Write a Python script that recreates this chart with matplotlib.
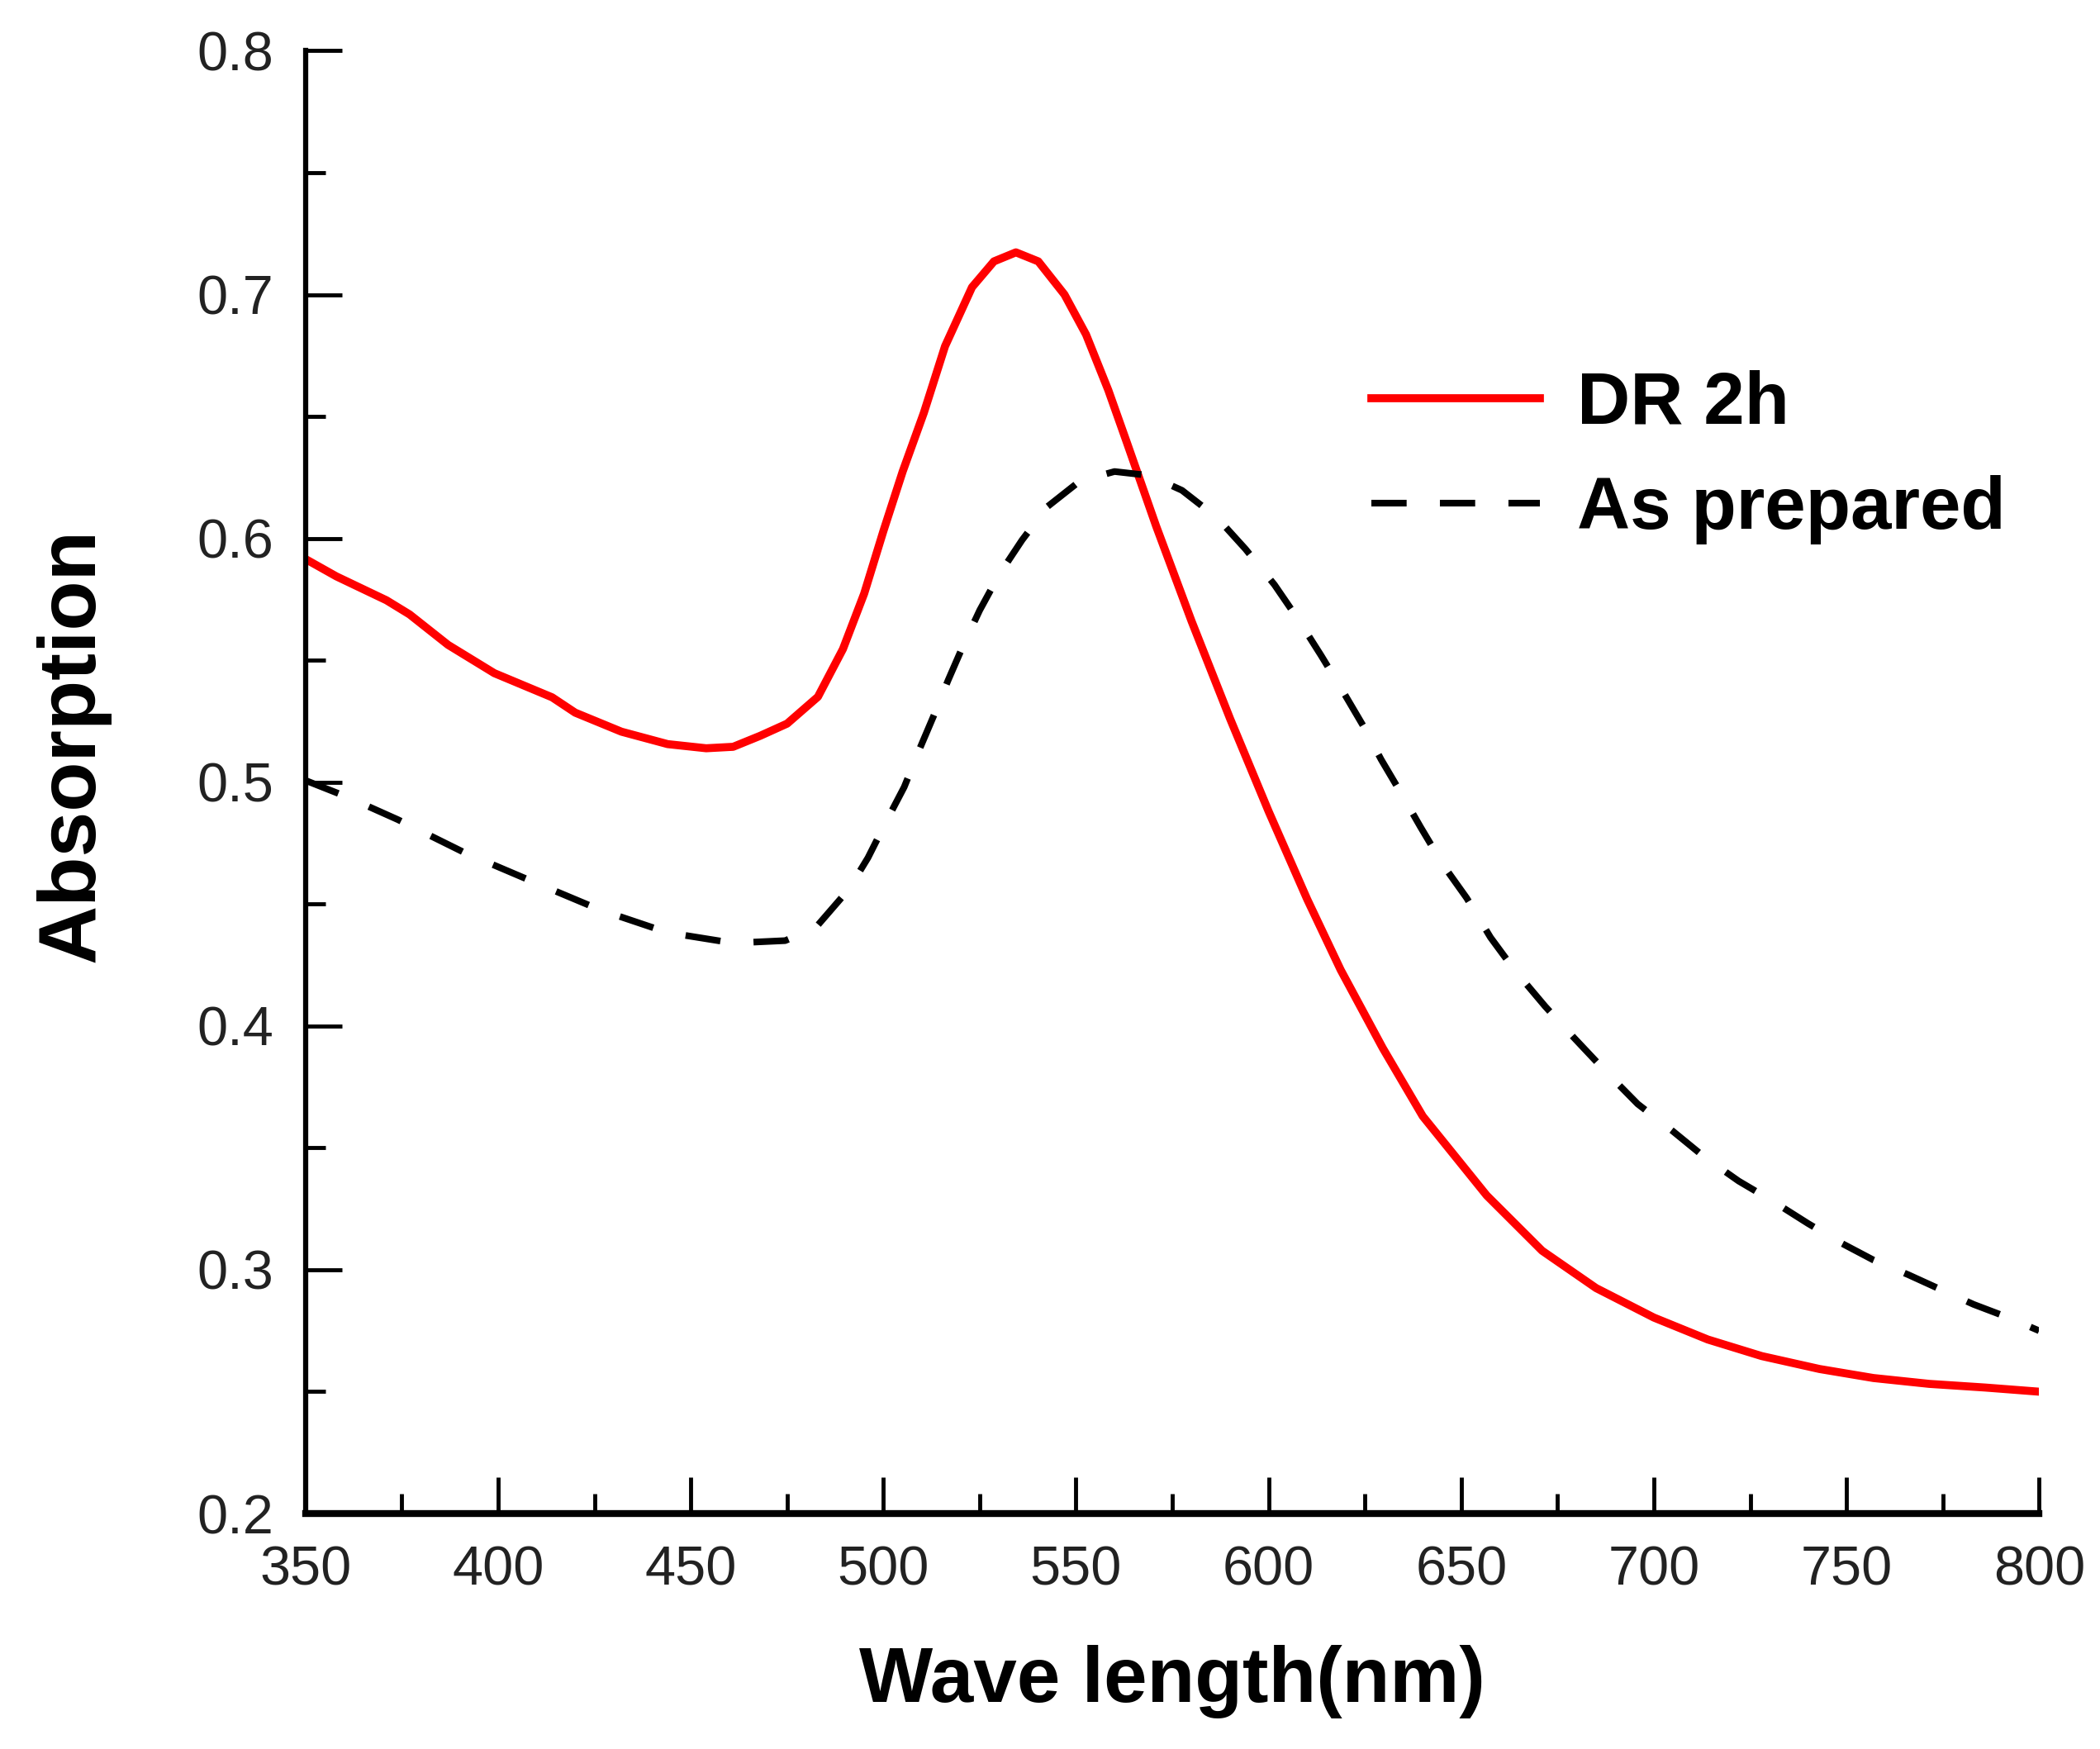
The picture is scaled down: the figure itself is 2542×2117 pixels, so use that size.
import matplotlib
matplotlib.use('Agg')
import matplotlib.pyplot as plt
from matplotlib.ticker import MultipleLocator, FormatStrFormatter

plt.rcParams['font.family'] = ['Liberation Sans', 'DejaVu Sans']

# DR 2h (red solid)
wl_dr = [350, 358, 371, 377, 387, 399, 414, 420, 432, 444, 454, 461, 468, 475,
         483, 489.5, 495, 500, 505, 510.5, 516, 523, 528.7, 534.4, 540.2, 547,
         552.6, 558.4, 563.2, 570.8, 580, 590, 600, 610, 618.7, 629.6,
         640, 656.6, 671, 685, 700, 714, 728, 743, 757, 771.5, 786, 800]
abs_dr = [0.5915, 0.5844, 0.5746, 0.5688, 0.5563, 0.5447, 0.5348, 0.5285,
          0.5207, 0.5156, 0.5139, 0.5145, 0.519, 0.524, 0.535, 0.5546, 0.5773,
          0.603, 0.6274, 0.6515, 0.6788, 0.703, 0.7136, 0.7173, 0.7136, 0.700,
          0.6836, 0.6607, 0.6393, 0.605, 0.566, 0.526, 0.488, 0.452, 0.423,
          0.391, 0.363, 0.3305, 0.3078, 0.2925, 0.2804, 0.2714, 0.2646, 0.2593,
          0.2556, 0.2532, 0.2517, 0.2500]

# As prepared (black dashed)
wl_ap = [350, 360.7, 374, 391, 409, 426.5, 444, 461, 474.5, 479, 483, 491, 496,
         501, 505.4, 509.5, 513, 516.8, 520.7, 525, 530, 536, 542.5, 551, 560,
         569, 577.5, 586.6, 594, 601.5, 607.7, 613.6, 619, 624.7, 629.2, 634.7,
         639.5, 645.4, 651.4, 657.6, 663.8, 671.8, 679, 687.7, 695.8, 704.8,
         713, 722, 731, 740, 748, 757, 766, 774.6, 783, 792, 800]
abs_ap = [0.5007, 0.494, 0.4846, 0.4713, 0.4592, 0.4476, 0.4383, 0.434, 0.435,
          0.438, 0.4414, 0.456, 0.469, 0.4847, 0.498, 0.514, 0.527, 0.5418,
          0.556, 0.5705, 0.585, 0.5993, 0.6129, 0.6235, 0.6274, 0.6258, 0.6197,
          0.6085, 0.5956, 0.581, 0.5667, 0.552, 0.538, 0.5227, 0.5093, 0.4946,
          0.4814, 0.4658, 0.4525, 0.4363, 0.423, 0.408, 0.3956, 0.381, 0.368,
          0.357, 0.3464, 0.3364, 0.328, 0.319, 0.3115, 0.304, 0.298, 0.2918,
          0.2858, 0.2804, 0.275]

fig = plt.figure(figsize=(25.42, 21.17), dpi=100)
ax = fig.add_axes([0.1455, 0.1346, 0.8255, 0.8364])

ax.plot(wl_dr, abs_dr, color='#ff0000', lw=7, label='DR 2h')
ax.plot(wl_ap, abs_ap, color='black', lw=5.8, linestyle=(0, (5.3, 5.0)),
        label='As prepared')

ax.set_xlim(350, 800)
ax.set_ylim(0.2, 0.8)
ax.xaxis.set_major_locator(MultipleLocator(50))
ax.xaxis.set_minor_locator(MultipleLocator(25))
ax.yaxis.set_major_locator(MultipleLocator(0.1))
ax.yaxis.set_minor_locator(MultipleLocator(0.05))
ax.yaxis.set_major_formatter(FormatStrFormatter('%.1f'))

ax.spines['top'].set_visible(False)
ax.spines['right'].set_visible(False)
ax.spines['left'].set_linewidth(4.5)
ax.spines['bottom'].set_linewidth(6)

ax.tick_params(which='major', direction='in', length=32, width=3.5,
               labelsize=48, pad=28, labelcolor='#222222')
ax.tick_params(which='minor', direction='in', length=17, width=3.5)

ax.set_xlabel('Wave length(nm)', fontsize=68, fontweight='bold', labelpad=42)
ax.set_ylabel('Absorption', fontsize=71, fontweight='bold', labelpad=75)
ax.yaxis.label.set_y(0.525)

ax.legend(loc='center left', bbox_to_anchor=(0.5936, 0.722), frameon=False,
          prop={'weight': 'bold', 'size': 64}, handlelength=2.3,
          handletextpad=0.5, labelspacing=0.49, borderpad=0)

fig.savefig('out.png', dpi=100)
